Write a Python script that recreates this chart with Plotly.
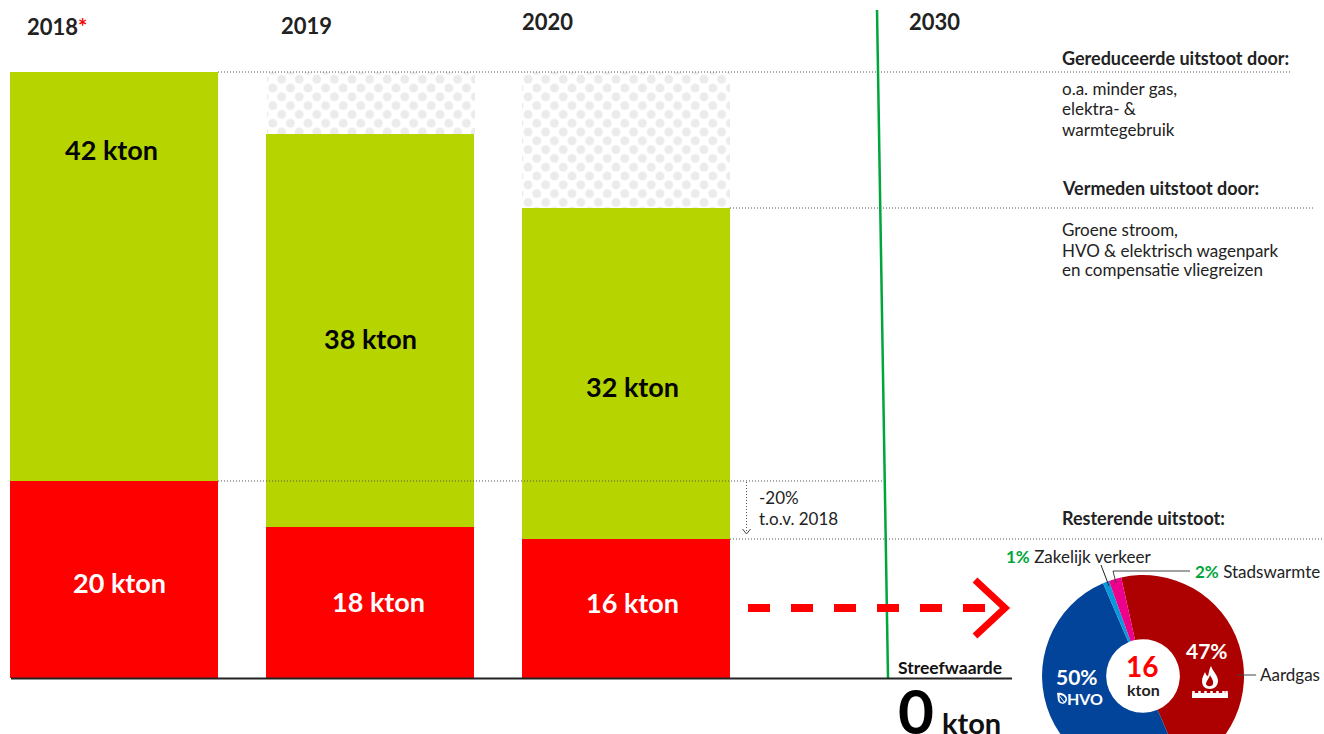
import plotly.graph_objects as go

# ---- data ----
years = ["2018", "2019", "2020"]
# drawn bar heights (the reference's bars are not strictly to scale with their labels)
red_heights = [20.0, 15.33, 14.11]
green_heights = [41.52, 39.9, 33.6]
saved_heights = [0, 6.29, 13.81]
green_labels = ["42 kton", "38 kton", "32 kton"]
red_labels = ["20 kton", "18 kton", "16 kton"]
pie_labels = ["Aardgas", "HVO", "Zakelijk verkeer", "Stadswarmte"]
pie_values = [47, 50, 1, 2]

# ---- styling ----
W, H = 1324, 800
BASE_PY = 678
PX_PER_UNIT = 9.85
PX_PER_CAT = 256.0
CAT0_PX = 114.3
BAR_W = 208 / PX_PER_CAT
SHIFT = 8.8
RED, GREEN, LINE = "#ff0000", "#b5d400", "#00a63c"
TXT = "#222222"
FONT = "Lato"
PIE_COLORS = ["#ad0000", "#03449b", "#0a98dc", "#ec008c"]

px = lambda x: x / W
py = lambda y: 1 - y / H
lift = [a + b for a, b in zip(red_heights, green_heights)]

fig = go.Figure()
common = dict(x=years, width=BAR_W, hoverinfo="skip", showlegend=False)
fig.add_bar(y=red_heights, base=[0, 0, 0], marker=dict(color=RED, line_width=0), **common)
fig.add_bar(y=green_heights, base=red_heights, marker=dict(color=GREEN, line_width=0), **common)
pattern = dict(shape=".", fgcolor="#ebebeb", fgopacity=1, bgcolor="rgba(0,0,0,0)",
               size=17.6, solidity=0.2, fillmode="overlay")
fig.add_bar(y=saved_heights, base=lift,
            marker=dict(color="rgba(0,0,0,0)", line_width=0, pattern=pattern), **common)
# same bars on a half-period shifted axis pair: staggers the dot pattern
fig.add_bar(y=saved_heights, base=lift, xaxis="x2", yaxis="y2",
            marker=dict(color="rgba(0,0,0,0)", line_width=0, pattern=pattern), **common)

fig.add_trace(go.Pie(
    labels=pie_labels, values=pie_values, sort=False, direction="clockwise", rotation=-12.5,
    hole=0.365, textinfo="none", hoverinfo="label+percent", showlegend=False,
    marker=dict(colors=PIE_COLORS, line_width=0),
    domain=dict(x=[px(1042), px(1244)], y=[py(777), py(575)]),
))

# ---- lines ----
def seg(x0, y0, x1, y1, color, width, dash="solid"):
    return dict(type="line", xref="paper", yref="paper", x0=px(x0), y0=py(y0), x1=px(x1), y1=py(y1),
                line=dict(color=color, width=width, dash=dash), layer="above")

def curve(cmds, fill=None, line=None, width=0):
    """cmds: list of (letter, x1, y1, x2, y2, ...) in picture pixels"""
    out = ""
    for c in cmds:
        pts = c[1:]
        out += c[0] + " ".join(f"{px(pts[i]):.6f},{py(pts[i + 1]):.6f}" for i in range(0, len(pts), 2)) + " "
    return dict(type="path", xref="paper", yref="paper", path=out.strip(), layer="above",
                fillcolor=fill if fill else "rgba(0,0,0,0)",
                line=dict(color=line if line else "rgba(0,0,0,0)", width=width))

DOT = "1px,2px"
shapes = [
    seg(218, 72, 1290, 72, "#555555", 1, DOT),
    seg(730, 208, 1315, 208, "#555555", 1, DOT),
    seg(218, 481, 885, 481, "#555555", 1, DOT),
    seg(730, 539, 1323, 539, "#555555", 1, DOT),
    seg(746.5, 482, 746.5, 533, "#555555", 1, DOT),
    seg(742.5, 529, 746.5, 534, "#444444", 1),
    seg(750.5, 529, 746.5, 534, "#444444", 1),
    seg(877, 10, 888, 678, LINE, 2.5),
    seg(11, 678.5, 1012, 678.5, "#222222", 2),
    seg(748, 608, 990, 608, RED, 8, "22px,21px"),
    curve([("M", 975, 580), ("L", 1005, 608), ("L", 975, 636)], line=RED, width=7),
    seg(1101, 565, 1109, 586, "#222222", 1),
    seg(1190, 571, 1113, 571, "#444444", 1),
    seg(1113, 571, 1116, 583, "#444444", 1),
    seg(1238, 675, 1256, 675, "#444444", 1),
    # burner + flame icon
    seg(1192, 695.5, 1228, 695.5, "white", 5),
] + [seg(x, 691, x, 694, "white", 2.5) for x in (1193.5, 1199.5, 1205.5, 1211.5, 1217.5, 1223.5, 1226.5)] + [
    curve([("M", 1211, 666), ("C", 1213, 672, 1218, 675, 1218, 681), ("C", 1218, 686, 1214, 689, 1210, 689),
           ("C", 1205, 689, 1202, 686, 1202, 681), ("C", 1202, 677, 1204, 675, 1205, 672),
           ("C", 1206, 675, 1207, 676, 1208, 676), ("C", 1209, 673, 1209, 669, 1211, 666), ("Z",)], fill="white"),
    curve([("M", 1210, 675), ("C", 1211, 678, 1214, 680, 1213, 684), ("C", 1212, 687, 1207, 687, 1206, 684),
           ("C", 1206, 681, 1209, 679, 1210, 675), ("Z",)], fill="#ad0000"),
    # leaf icon
    curve([("M", 1057, 693), ("C", 1062, 692, 1067, 695, 1067, 699), ("C", 1067, 703, 1063, 705, 1060, 703),
           ("C", 1057, 701, 1058, 697, 1057, 693), ("Z",)], fill="white"),
    curve([("M", 1059, 695), ("C", 1062, 694.5, 1065.5, 697, 1065.5, 699), ("C", 1065, 702, 1063, 703, 1061, 702),
           ("C", 1059, 700, 1060, 698, 1059, 695), ("Z",)], fill="#03449b"),
    seg(1058, 694, 1065, 703, "white", 1),
]

# ---- text ----
def txt(x, y, text, size=17, color=TXT, anchor="left", bold=False):
    return dict(xref="paper", yref="paper", x=px(x), y=py(y), text=text, showarrow=False,
                xanchor=anchor, yanchor="middle", align=anchor, borderpad=0, borderwidth=0,
                font=dict(family=FONT, size=size, color=color, weight=700 if bold else 400))

star = f"<span style='color:{RED}'>*</span>"
ann = [
    txt(27, 27, years[0] + star, 22, bold=True),
    txt(281, 25.5, years[1], 22, bold=True),
    txt(522, 21.5, years[2], 22, bold=True),
    txt(909, 21.5, "2030", 22, bold=True),
    txt(1062, 57.5, "Gereduceerde uitstoot door:", 18, bold=True),
    txt(1062, 89, "o.a. minder gas,"),
    txt(1062, 109, "elektra- &"),
    txt(1062, 129, "warmtegebruik"),
    txt(1062, 188, "Vermeden uitstoot door:", 18, bold=True),
    txt(1062, 230, "Groene stroom,"),
    txt(1062, 250, "HVO & elektrisch wagenpark"),
    txt(1062, 269.5, "en compensatie vliegreizen"),
    txt(1062, 518, "Resterende uitstoot:", 18, bold=True),
    txt(759, 497, "-20%"),
    txt(759, 518, "t.o.v. 2018"),
    txt(1006, 556, f"<b style='color:{LINE}'>1%</b> Zakelijk verkeer"),
    txt(1195, 571, f"<b style='color:{LINE}'>2%</b> Stadswarmte"),
    txt(1260, 674, pie_labels[0]),
    txt(1207, 650, f"{pie_values[0]}%", 21, "white", "center", True),
    txt(1077, 676, f"{pie_values[1]}%", 21, "white", "center", True),
    txt(1085, 698, pie_labels[1], 16, "white", "center", True),
    txt(1142, 666, "16", 28, RED, "center", True),
    txt(1143, 689, "kton", 16, TXT, "center", True),
    txt(950, 667, "Streefwaarde", 17.5, "#111111", "center", True),
    txt(915.5, 710, "0", 62, "#000000", "center", True),
    txt(942, 722, "kton", 29, "#111111", "left", True),
]
for lab, x, y in zip(green_labels, (111.5, 370, 632.5), (149.5, 338.5, 386.5)):
    ann.append(txt(x, y, lab, 27, "#050505", "center", True))
for lab, x, y in zip(red_labels, (119.5, 378.5, 632.5), (582.5, 601.5, 602.5)):
    ann.append(txt(x, y, lab, 27, "white", "center", True))

plain = dict(visible=False, fixedrange=True)
y_dom0 = 1 - BASE_PY / H
fig.update_layout(
    width=W, height=H, margin=dict(l=0, r=0, t=0, b=0), barmode="overlay", bargap=0,
    paper_bgcolor="white", plot_bgcolor="rgba(0,0,0,0)", showlegend=False,
    shapes=shapes, annotations=ann,
    xaxis=dict(domain=[0, 1 - SHIFT / W], type="category", categoryarray=years,
               range=[-CAT0_PX / PX_PER_CAT, (W - SHIFT - CAT0_PX) / PX_PER_CAT], **plain),
    xaxis2=dict(domain=[SHIFT / W, 1], type="category", categoryarray=years, anchor="y2",
                range=[(SHIFT - CAT0_PX) / PX_PER_CAT, (W - CAT0_PX) / PX_PER_CAT], **plain),
    yaxis=dict(domain=[y_dom0, 1 - SHIFT / H], range=[0, (BASE_PY - SHIFT) / PX_PER_UNIT], **plain),
    yaxis2=dict(domain=[y_dom0 + SHIFT / H, 1], anchor="x2",
                range=[SHIFT / PX_PER_UNIT, BASE_PY / PX_PER_UNIT], **plain),
)

fig.write_html("out.html", config=dict(displayModeBar=False),
               post_script="document.documentElement.style.overflow='hidden';"
                           "document.body.style.overflow='hidden';document.body.style.margin='0';")
